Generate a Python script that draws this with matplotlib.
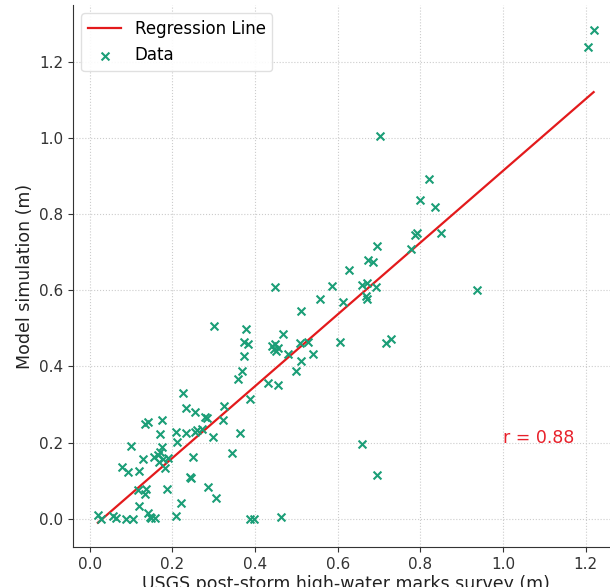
import numpy as np
import matplotlib
matplotlib.use('Agg')
import matplotlib.pyplot as plt

# survey (x) vs model (y) high-water marks
survey = [0.020, 0.028, 0.056, 0.064, 0.088, 0.104, 0.078, 0.092, 0.100, 0.119,
          0.119, 0.118, 0.130, 0.133, 0.141, 0.133, 0.137, 0.141, 0.145, 0.149,
          0.157, 0.156, 0.165, 0.171, 0.175, 0.169, 0.178, 0.183, 0.175, 0.171,
          0.187, 0.189,
          0.209, 0.209, 0.211, 0.221, 0.225, 0.234, 0.234, 0.242, 0.246, 0.250,
          0.254, 0.254, 0.260, 0.271, 0.278, 0.283, 0.286, 0.298, 0.302, 0.306,
          0.322, 0.326, 0.345, 0.363,
          0.359, 0.369, 0.373, 0.373, 0.379, 0.383, 0.387, 0.389, 0.398, 0.431,
          0.456, 0.441, 0.446, 0.449, 0.452, 0.456, 0.448, 0.462, 0.468, 0.480,
          0.500,
          0.508, 0.512, 0.512, 0.528, 0.540, 0.557, 0.587, 0.605, 0.612, 0.628,
          0.658, 0.658, 0.670, 0.668, 0.670, 0.674, 0.686, 0.692, 0.694, 0.694,
          0.703, 0.717, 0.729,
          0.778, 0.787, 0.791, 0.798, 0.821, 0.835, 0.849, 0.938, 1.205, 1.219]
model = [0.010, 0.000, 0.008, 0.002, 0.000, 0.000, 0.136, 0.123, 0.191, 0.126,
         0.033, 0.074, 0.156, 0.249, 0.254, 0.066, 0.079, 0.014, 0.004, 0.001,
         0.001, 0.163, 0.168, 0.176, 0.187, 0.150, 0.158, 0.132, 0.259, 0.222,
         0.079, 0.160,
         0.007, 0.228, 0.202, 0.042, 0.329, 0.226, 0.290, 0.110, 0.106, 0.163,
         0.279, 0.228, 0.233, 0.236, 0.266, 0.265, 0.082, 0.215, 0.507, 0.053,
         0.259, 0.296, 0.173, 0.224,
         0.366, 0.389, 0.426, 0.465, 0.498, 0.458, 0.314, 0.000, 0.000, 0.356,
         0.351, 0.453, 0.445, 0.458, 0.441, 0.448, 0.608, 0.005, 0.486, 0.433,
         0.389,
         0.461, 0.415, 0.544, 0.465, 0.432, 0.577, 0.612, 0.464, 0.568, 0.654,
         0.195, 0.614, 0.619, 0.584, 0.577, 0.680, 0.674, 0.608, 0.114, 0.715,
         1.006, 0.462, 0.472,
         0.708, 0.746, 0.751, 0.836, 0.893, 0.819, 0.749, 0.600, 1.239, 1.284]
r_text = 'r = 0.88'

x = np.array(survey)
y = np.array(model)
slope, intercept = np.polyfit(x, y, 1)
print(slope, intercept, np.corrcoef(x, y)[0, 1], len(x))
xs = np.array([x.min(), x.max()])

plt.rcParams['font.family'] = 'DejaVu Sans'
fig = plt.figure(figsize=(6.1, 5.87), dpi=100)
ax = fig.add_axes([0.1198, 0.0675, 0.894, 0.924])

ax.plot(xs, slope * xs + intercept, color='#e31a1c', lw=1.6, label='Regression Line')
ax.scatter(x, y, marker='x', s=32, color='#1b9e77', lw=1.5, label='Data', zorder=3)
ax.text(1.0, 0.2, r_text, color='#e8202a', fontsize=12.5)

ax.set_xticks([0.0, 0.2, 0.4, 0.6, 0.8, 1.0, 1.2])
ax.set_yticks([0.0, 0.2, 0.4, 0.6, 0.8, 1.0, 1.2])
ax.tick_params(labelsize=11, length=3.5, color='#333333', labelcolor='#333333')
ax.set_xlabel('USGS post-storm high-water marks survey (m)', fontsize=12.5, color='#222222', labelpad=2)
ax.set_ylabel('Model simulation (m)', fontsize=12.5, color='#222222')
ax.grid(True, ls=':', lw=0.8, color='#cccccc')
for s in ['top', 'right']:
    ax.spines[s].set_visible(False)
for s in ['left', 'bottom']:
    ax.spines[s].set_color('#333333')

ax.legend(loc='upper left', fontsize=12, framealpha=0.9, edgecolor='#dddddd')

fig.savefig('out.png', dpi=100)
